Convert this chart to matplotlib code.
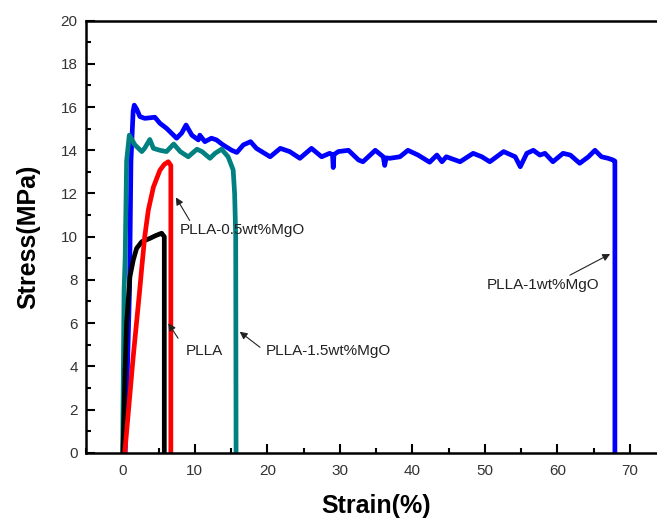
import matplotlib
matplotlib.use("Agg")
import matplotlib.pyplot as plt
from matplotlib.ticker import MultipleLocator

plt.rcParams['font.family'] = ['Liberation Sans', 'DejaVu Sans']

# ---- data (strain %, stress MPa) ----
plla_x = [0.1, 0.37, 0.6, 0.9, 1.06, 1.52, 1.98, 2.7, 3.8, 4.6, 5.43, 5.8, 5.8]
plla_y = [0.0, 3.7, 6.0, 7.4, 8.15, 8.92, 9.46, 9.77, 9.92, 10.05, 10.16, 10.0, 0.0]

mgo05_x = [0.35, 1.5, 2.4, 2.7, 3.1, 3.6, 4.3, 5.2, 5.8, 6.35, 6.7, 6.7]
mgo05_y = [0.0, 4.4, 7.5, 8.6, 10.0, 11.24, 12.3, 13.08, 13.35, 13.47, 13.3, 0.0]

mgo1_x = [0.4, 1.0, 1.2, 1.5, 1.66, 2.0, 2.44, 3.1, 3.7, 4.5, 5.2, 6.1, 7.5, 8.2, 8.8,
          9.6, 10.5, 10.7, 11.4, 12.3, 13.0, 13.9, 15.1, 15.8, 16.7, 17.7, 18.5, 20.4,
          21.8, 23.1, 24.5, 26.1, 27.5, 28.6, 29.0, 29.1, 29.2, 29.8, 31.2, 32.6, 33.2,
          34.9, 36.0, 36.2, 36.4, 36.9, 38.3, 39.4, 40.8, 42.4, 43.4, 44.1, 44.7, 46.6,
          48.4, 49.6, 50.7, 52.6, 54.2, 54.9, 55.8, 56.7, 57.6, 58.3, 59.4, 60.8, 61.8,
          63.1, 64.3, 65.2, 66.1, 67.0, 67.7, 67.95, 67.95]
mgo1_y = [0.0, 7.5, 13.5, 15.8, 16.09, 15.9, 15.56, 15.48, 15.5, 15.53, 15.25, 15.02,
          14.56, 14.8, 15.17, 14.7, 14.48, 14.7, 14.4, 14.56, 14.48, 14.25, 14.0, 13.9,
          14.25, 14.4, 14.09, 13.7, 14.09, 13.94, 13.63, 14.09, 13.7, 13.86, 13.8, 13.2,
          13.8, 13.94, 14.0, 13.55, 13.47, 14.0, 13.7, 13.3, 13.65, 13.63, 13.7, 14.0,
          13.78, 13.45, 13.78, 13.47, 13.7, 13.47, 13.86, 13.7, 13.47, 13.94, 13.7, 13.24,
          13.86, 14.0, 13.78, 13.86, 13.47, 13.86, 13.78, 13.4, 13.7, 14.0, 13.7, 13.63,
          13.55, 13.5, 0.0]

mgo15_x = [0.05, 0.25, 0.4, 0.6, 0.97, 1.75, 2.7, 3.1, 3.8, 4.3, 5.2, 6.1, 7.1, 8.0,
           9.1, 10.3, 11.0, 12.1, 12.8, 13.7, 14.6, 15.3, 15.5, 15.65, 15.7]
mgo15_y = [0.0, 7.5, 9.0, 13.5, 14.7, 14.25, 13.94, 14.1, 14.5, 14.09, 14.0, 13.94,
           14.29, 13.94, 13.7, 14.05, 13.94, 13.63, 13.86, 14.05, 13.7, 13.09, 12.0,
           10.0, 0.0]

labels = ["PLLA", "PLLA-0.5wt%MgO", "PLLA-1wt%MgO", "PLLA-1.5wt%MgO"]

fig = plt.figure(figsize=(6.57, 5.19), dpi=100)
ax = fig.add_axes([86 / 657, (519 - 452.7) / 519, 580 / 657, 432 / 519])

lw = 3.4
ax.plot(mgo1_x, mgo1_y, color='#0000ff', lw=lw, solid_joinstyle='round')
ax.plot(mgo15_x, mgo15_y, color='#008080', lw=lw, solid_joinstyle='round')
ax.plot(plla_x, plla_y, color='#000000', lw=lw, solid_joinstyle='round')
ax.plot(mgo05_x, mgo05_y, color='#ff0000', lw=lw, solid_joinstyle='round')

ax.set_xlim(-5, 75)
ax.set_ylim(0, 20)
ax.xaxis.set_major_locator(MultipleLocator(10))
ax.xaxis.set_minor_locator(MultipleLocator(5))
ax.yaxis.set_major_locator(MultipleLocator(2))
ax.yaxis.set_minor_locator(MultipleLocator(1))
ax.tick_params(which='both', direction='in', width=1.5, labelsize=11,
               colors='black', labelcolor='#333333')
ax.tick_params(which='major', length=6.5, pad=6)
ax.tick_params(which='minor', length=3.5)
ax.tick_params(axis='x', pad=8)
for s in ax.spines.values():
    s.set_linewidth(1.8)

ax.set_xlabel("Strain(%)", fontsize=18, fontweight='bold', labelpad=12)
ax.set_ylabel("Stress(MPa)", fontsize=18, fontweight='bold', labelpad=15)

ap = dict(arrowstyle='-|>', color='#222222', lw=0.8, mutation_scale=11,
          shrinkA=0, shrinkB=0)
fs = 11
ax.annotate("", xy=(6.35, 5.99), xytext=(7.7, 5.3), arrowprops=ap)
ax.text(8.7, 4.72, labels[0], fontsize=fs, va='center', ha='left', color='#222222')

ax.annotate("", xy=(7.4, 11.82), xytext=(9.3, 10.75), arrowprops=ap)
ax.text(7.95, 10.3, labels[1], fontsize=fs, va='center', ha='left', color='#222222')

ax.annotate("", xy=(67.3, 9.2), xytext=(61.75, 8.22), arrowprops=ap)
ax.text(50.3, 7.76, labels[2], fontsize=fs, va='center', ha='left', color='#222222')

ax.annotate("", xy=(16.2, 5.6), xytext=(19.0, 4.88), arrowprops=ap)
ax.text(19.8, 4.72, labels[3], fontsize=fs, va='center', ha='left', color='#222222')

fig.savefig("out.png", dpi=100)
